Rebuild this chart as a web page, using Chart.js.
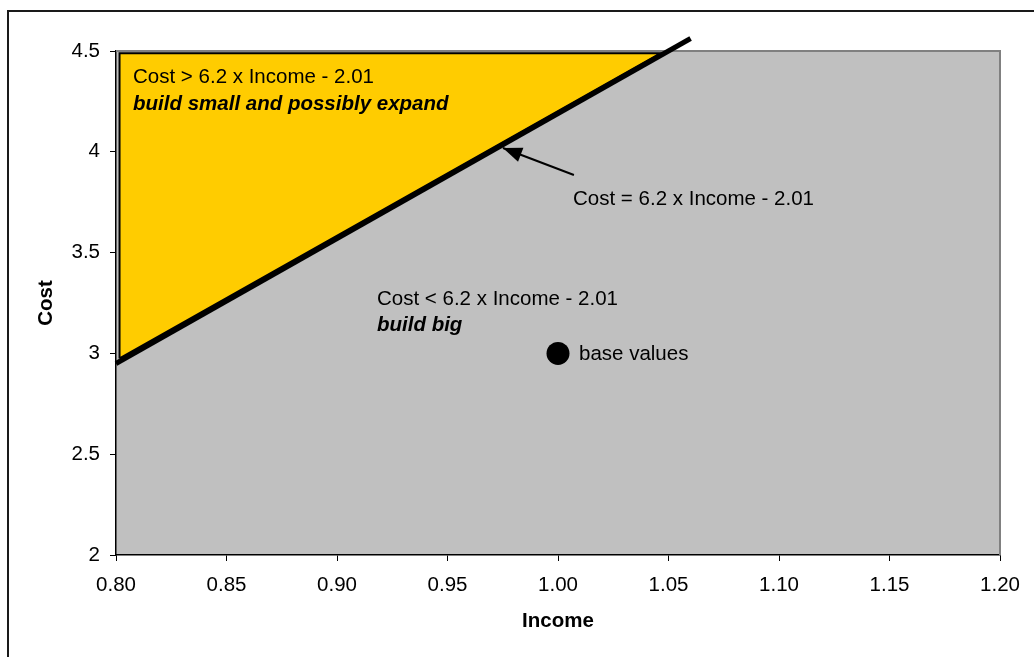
<!DOCTYPE html>
<html>
<head>
<meta charset="utf-8">
<script src="https://cdn.jsdelivr.net/npm/chart.js@4/dist/chart.umd.min.js"></script>
<style>
  html, body { margin: 0; padding: 0; background: #fff; overflow: hidden; }
  #wrap { position: relative; width: 1034px; height: 657px; }
  #wrap canvas { position: absolute; left: 0; top: 0; }
  #frame { position: absolute; left: 7px; top: 10px; width: 1100px; height: 700px;
           border-left: 2px solid #1a1a1a; border-top: 2px solid #1a1a1a; pointer-events: none; }
</style>
</head>
<body>
<div id="wrap">
  <canvas id="c" width="1034" height="657"></canvas>
  <div id="frame"></div>
</div>
<script>
// Axis ticks
const xTickValues = [0.80, 0.85, 0.90, 0.95, 1.00, 1.05, 1.10, 1.15, 1.20];
const xTickLabels = ['0.80', '0.85', '0.90', '0.95', '1.00', '1.05', '1.10', '1.15', '1.20'];
const yTickValues = [2, 2.5, 3, 3.5, 4, 4.5];
const yTickLabels = ['2', '2.5', '3', '3.5', '4', '4.5'];

// Break-even line: Cost = 6.2 x Income - 2.01
const boundaryIncome = [0.80, 1.06];
const boundaryCost = [2.95, 4.562];

// "Build small" region above the line
const regionIncome = [0.8016, 0.8016, 1.0465, 0.8016];
const regionCost = [2.975, 4.489, 4.489, 2.975];

// Base case
const baseIncome = [1.00];
const baseCost = [3.00];

// Pointer from the equation label to the line (tail, tip)
const arrowIncome = [1.0072, 0.9751];
const arrowCost = [3.885, 4.019];

const FONT = "'Liberation Sans', Arial, Helvetica, sans-serif";
const FS = 20.5;

// Text notes placed in data space (left edge, baseline)
const notes = [
  { text: 'Cost > 6.2 x Income - 2.01', x: 0.8077, y: 4.341, style: 'normal' },
  { text: 'build small and possibly expand', x: 0.8077, y: 4.207, style: 'italic bold' },
  { text: 'Cost = 6.2 x Income - 2.01', x: 1.0068, y: 3.736, style: 'normal' },
  { text: 'Cost < 6.2 x Income - 2.01', x: 0.9181, y: 3.240, style: 'normal' },
  { text: 'build big', x: 0.9181, y: 3.110, style: 'italic bold' },
  { text: 'base values', x: 1.0095, y: 2.967, style: 'normal' }
];

const zip = (xs, ys) => xs.map((x, i) => ({ x: x, y: ys[i] }));

const plotDecor = {
  id: 'plotDecor',
  beforeDraw(chart) {
    const { ctx, chartArea: a } = chart;
    ctx.save();
    ctx.fillStyle = '#ffffff';
    ctx.fillRect(0, 0, chart.width, chart.height);
    ctx.fillStyle = '#c0c0c0';
    ctx.fillRect(a.left, a.top, a.right - a.left, a.bottom - a.top);
    ctx.restore();
  },
  beforeDatasetsDraw(chart) {
    const { ctx, chartArea: a } = chart;
    ctx.save();
    ctx.strokeStyle = '#808080';
    ctx.lineWidth = 2;
    ctx.beginPath();
    ctx.moveTo(a.left, a.top);
    ctx.lineTo(a.right, a.top);
    ctx.lineTo(a.right, a.bottom);
    ctx.stroke();
    ctx.restore();
  },
  afterDatasetsDraw(chart) {
    const { ctx, scales: { x, y } } = chart;
    ctx.save();
    // arrow head
    const tx = x.getPixelForValue(arrowIncome[1]), ty = y.getPixelForValue(arrowCost[1]);
    const sx = x.getPixelForValue(arrowIncome[0]), sy = y.getPixelForValue(arrowCost[0]);
    const ang = Math.atan2(ty - sy, tx - sx);
    const L = 19, W = 7.5;
    const bx = tx - L * Math.cos(ang), by = ty - L * Math.sin(ang);
    ctx.fillStyle = '#000';
    ctx.beginPath();
    ctx.moveTo(tx, ty);
    ctx.lineTo(bx + W * Math.sin(ang), by - W * Math.cos(ang));
    ctx.lineTo(bx - W * Math.sin(ang), by + W * Math.cos(ang));
    ctx.closePath();
    ctx.fill();
    // notes
    ctx.textAlign = 'left';
    ctx.textBaseline = 'alphabetic';
    notes.forEach(n => {
      ctx.font = n.style + ' ' + FS + 'px ' + FONT;
      ctx.fillStyle = '#000';
      ctx.fillText(n.text, x.getPixelForValue(n.x), y.getPixelForValue(n.y));
    });
    ctx.restore();
  }
};

Chart.defaults.font.family = FONT;
Chart.defaults.font.size = FS;
Chart.defaults.color = '#000';

new Chart(document.getElementById('c'), {
  type: 'scatter',
  data: {
    datasets: [
      {
        label: 'build small',
        data: zip(regionIncome, regionCost),
        showLine: true,
        fill: 'shape',
        backgroundColor: '#ffcc00',
        borderColor: '#000',
        borderWidth: 2,
        borderJoinStyle: 'miter',
        pointRadius: 0,
        order: 4
      },
      {
        label: 'boundary',
        data: zip(boundaryIncome, boundaryCost),
        showLine: true,
        borderColor: '#000',
        borderWidth: 5,
        borderCapStyle: 'butt',
        pointRadius: 0,
        clip: false,
        order: 3
      },
      {
        label: 'pointer',
        data: zip(arrowIncome, arrowCost),
        showLine: true,
        borderColor: '#000',
        borderWidth: 2,
        pointRadius: 0,
        order: 2
      },
      {
        label: 'base values',
        data: zip(baseIncome, baseCost),
        pointRadius: 11.5,
        pointBackgroundColor: '#000',
        pointBorderColor: '#000',
        pointBorderWidth: 0,
        order: 1
      }
    ]
  },
  options: {
    responsive: false,
    animation: false,
    events: [],
    layout: { padding: { left: 0, top: 51, right: 34, bottom: 0 } },
    plugins: { legend: { display: false }, tooltip: { enabled: false } },
    scales: {
      x: {
        type: 'linear',
        min: 0.8,
        max: 1.2,
        afterBuildTicks: s => { s.ticks = xTickValues.map(v => ({ value: v })); },
        afterFit: s => { s.height = 102; },
        ticks: {
          callback: (v, i) => xTickLabels[i],
          autoSkip: false,
          maxRotation: 0,
          padding: 12,
          color: '#000',
          font: { size: FS }
        },
        grid: { drawOnChartArea: false, drawTicks: true, tickLength: 6, tickColor: '#000', tickWidth: 1 },
        border: { display: true, color: '#000', width: 1.5 },
        title: { display: true, text: 'Income', color: '#000', font: { size: FS, weight: 'bold' }, padding: { top: 0, bottom: 23 } }
      },
      y: {
        type: 'linear',
        min: 2,
        max: 4.5,
        afterBuildTicks: s => { s.ticks = yTickValues.map(v => ({ value: v })); },
        afterFit: s => { s.width = 116; },
        ticks: {
          callback: (v, i) => yTickLabels[i],
          autoSkip: false,
          padding: 10,
          color: '#000',
          font: { size: FS }
        },
        grid: { drawOnChartArea: false, drawTicks: true, tickLength: 6, tickColor: '#000', tickWidth: 1 },
        border: { display: true, color: '#000', width: 1.5 },
        title: { display: true, text: 'Cost', color: '#000', font: { size: FS, weight: 'bold' }, padding: { top: 34, bottom: 0 } }
      }
    }
  },
  plugins: [plotDecor]
});
</script>
</body>
</html>
